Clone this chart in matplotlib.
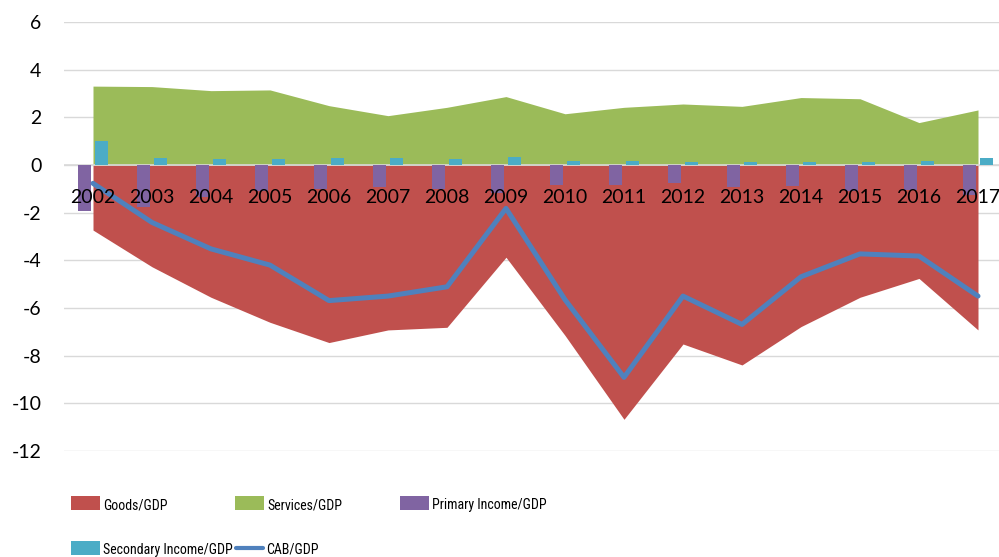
import matplotlib
matplotlib.use("Agg")
import matplotlib.pyplot as plt
import matplotlib.transforms as mtransforms
from matplotlib.patches import Rectangle
from matplotlib.lines import Line2D
import numpy as np

# Current account components as a share of GDP (%)
years = ["2002", "2003", "2004", "2005", "2006", "2007", "2008", "2009",
         "2010", "2011", "2012", "2013", "2014", "2015", "2016", "2017"]
goods = [-2.73, -4.27, -5.55, -6.60, -7.45, -6.92, -6.81, -3.87,
         -7.15, -10.67, -7.51, -8.39, -6.78, -5.55, -4.76, -6.92]
services = [3.31, 3.29, 3.12, 3.15, 2.49, 2.07, 2.42, 2.87,
            2.15, 2.42, 2.56, 2.46, 2.83, 2.78, 1.78, 2.31]
primary_income = [-1.93, -1.78, -1.36, -1.08, -1.02, -0.91, -1.02, -1.19,
                  -0.85, -0.85, -0.77, -0.91, -0.88, -1.08, -1.05, -1.26]
secondary_income = [1.01, 0.29, 0.25, 0.27, 0.29, 0.28, 0.25, 0.34,
                    0.17, 0.17, 0.14, 0.11, 0.13, 0.14, 0.17, 0.29]
cab = [-0.77, -2.41, -3.52, -4.20, -5.69, -5.50, -5.11, -1.82,
       -5.65, -8.91, -5.50, -6.69, -4.69, -3.73, -3.82, -5.50]
y_ticks = [6, 4, 2, 0, -2, -4, -6, -8, -10, -12]

labels = ["Goods/GDP", "Services/GDP", "Primary Income/GDP",
          "Secondary Income/GDP", "CAB/GDP"]

RED = "#C0504D"
GREEN = "#9BBB59"
PURPLE = "#8064A2"
CYAN = "#4BACC6"
BLUE = "#4F81BD"
GRID = "#D9D9D9"

TICK_FONT = ["Lato", "DejaVu Sans"]
LEG_FONT = ["Liberation Sans Narrow", "Roboto Condensed", "Lato", "DejaVu Sans"]

W, H = 999, 557
fig = plt.figure(figsize=(W / 100, H / 100), dpi=100)
ax = fig.add_axes([63.5 / W, 1 - 451 / H, 944 / W, 429 / H])

x = np.arange(len(years))

# areas for goods and services balances
ax.fill_between(x, 0, goods, color=RED, lw=0, zorder=2)
ax.fill_between(x, 0, services, color=GREEN, lw=0, zorder=2)

# category axis line at zero
ax.axhline(0, color=GRID, lw=1.2, zorder=2.5)

# clustered bars for income balances
bw = 0.225
off = 0.14
ax.bar(x - off, primary_income, width=bw, color=PURPLE, lw=0, zorder=3)
ax.bar(x + off, secondary_income, width=bw, color=CYAN, lw=0, zorder=3)

# current account balance
ax.plot(x, cab, color=BLUE, lw=3.6, solid_joinstyle="round",
        solid_capstyle="round", zorder=4)

ax.set_xlim(-0.5, len(years) - 0.5)
ax.set_ylim(-12, 6)
ax.set_yticks(y_ticks)
ax.set_yticklabels([str(v) for v in y_ticks], fontfamily=TICK_FONT, fontsize=14)
ax.tick_params(axis="y", length=0, pad=16)
ax.set_xticks([])
ax.set_axisbelow(True)
ax.yaxis.grid(True, color=GRID, lw=1.0)
for s in ax.spines.values():
    s.set_visible(False)

# year labels sit just under the zero line, above the plotted data
lab_tr = ax.transData + mtransforms.ScaledTranslation(0, -37.7 / 100, fig.dpi_scale_trans)
for xi, yr in zip(x, years):
    ax.text(xi, 0, yr, transform=lab_tr, ha="center", va="baseline",
            fontfamily=TICK_FONT, fontsize=14, color="black", zorder=6,
            clip_on=False)

# legend laid out in two rows below the plot
px = mtransforms.Affine2D().scale(1 / W, -1 / H).translate(0, 1) + fig.transFigure
entries = [
    (labels[0], "patch", RED, 71, 503, 509.5),
    (labels[1], "patch", GREEN, 235, 503, 509.5),
    (labels[2], "patch", PURPLE, 400, 503, 509.5),
    (labels[3], "patch", CYAN, 71, 548, 554),
    (labels[4], "line", BLUE, 234, 548, 554),
]
for text, kind, col, x0, yc, base in entries:
    if kind == "patch":
        fig.add_artist(Rectangle((x0, yc - 7), 29, 14, transform=px,
                                 facecolor=col, edgecolor="none"))
    else:
        fig.add_artist(Line2D([x0 + 1.5, x0 + 28.5], [yc, yc], transform=px,
                              color=col, lw=3.0, solid_capstyle="round"))
    fig.text(x0 + 32, base, text, transform=px, ha="left", va="baseline",
             fontfamily=LEG_FONT, fontsize=10, color="black")

fig.savefig("out.png", dpi=100)
